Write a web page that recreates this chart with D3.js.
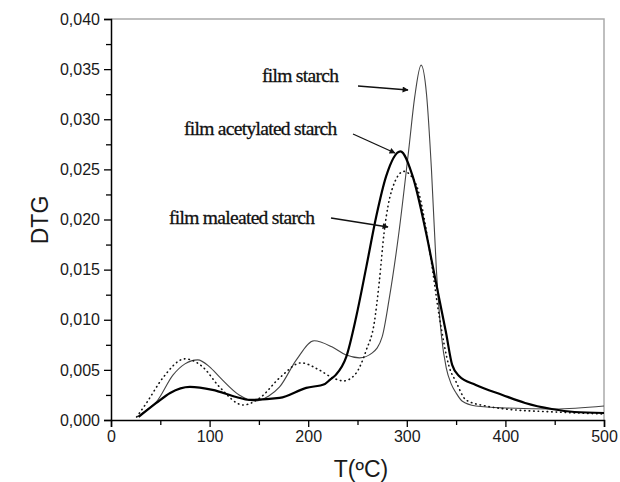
<!DOCTYPE html>
<html>
<head>
<meta charset="utf-8">
<script src="https://cdn.jsdelivr.net/npm/d3@7"></script>
<style>
  body { margin: 0; background: #fff; }
  svg text { font-family: "Liberation Sans", Arial, sans-serif; }
</style>
</head>
<body>
<div id="chart"></div>
<script>
// DTG curves, [T (ºC), DTG]
const filmStarch = [
  [26, 0.0003], [36, 0.0010], [46, 0.0018], [63, 0.0045], [75, 0.0056], [88, 0.0060], [100, 0.0053],
  [110, 0.0043], [130, 0.0025], [146, 0.0019], [160, 0.0024], [171, 0.0033], [188, 0.0060],
  [206, 0.0079], [224, 0.0073], [238, 0.0065], [252, 0.0062], [265, 0.0067], [275, 0.0083],
  [282, 0.0120], [292, 0.0187], [302, 0.0270], [308, 0.0322], [314.5, 0.0354], [320, 0.0325],
  [325, 0.0250], [330, 0.0150], [335, 0.0085], [340, 0.0052], [345, 0.0036], [350, 0.0027],
  [356, 0.0019], [370, 0.0014], [400, 0.0012], [450, 0.0011], [500, 0.0014]
];
const filmAcetylated = [
  [28, 0.0003], [46, 0.0017], [60, 0.0027], [80, 0.0033], [103, 0.0030], [127, 0.0023],
  [140, 0.0020], [171, 0.0022], [198, 0.0032], [217, 0.0036], [222, 0.0040], [228, 0.0045],
  [238.6, 0.0063], [248.7, 0.0103], [259, 0.0153], [269, 0.0203], [279, 0.0243], [293.5, 0.0268],
  [306, 0.0243], [319.5, 0.0187], [329.6, 0.0137], [339.8, 0.0087], [346, 0.0055], [353, 0.0044],
  [370, 0.0035], [397, 0.0025], [420, 0.0017], [447, 0.0011], [470, 0.0008], [500, 0.0007]
];
const filmMaleated = [
  [26, 0.0003], [36, 0.0017], [52.6, 0.0042], [75, 0.0061], [93, 0.0053], [110, 0.0033],
  [134, 0.0015], [151, 0.0022], [171, 0.0042], [193, 0.0057], [211, 0.0050], [225, 0.0042],
  [236, 0.0039], [248, 0.0046], [259, 0.0070], [267, 0.0097], [272, 0.0137], [277, 0.0187],
  [285, 0.0230], [297, 0.0248], [309, 0.0236], [323, 0.0170], [333, 0.0103], [343, 0.0053],
  [350, 0.0038], [360, 0.0020], [380, 0.0014], [400, 0.0011], [450, 0.0008], [500, 0.0006]
];

const xTicks = [0, 100, 200, 300, 400, 500];
const yTicks = [0, 0.005, 0.010, 0.015, 0.020, 0.025, 0.030, 0.035, 0.040];
const labels = ["film starch", "film acetylated starch", "film maleated starch"];

const width = 620, height = 482;
const margin = { left: 111, right: 604, top: 19, bottom: 420 };

const x = d3.scaleLinear().domain([0, 500]).range([margin.left, margin.right]);
const y = d3.scaleLinear().domain([0, 0.040]).range([margin.bottom, margin.top]);

const svg = d3.select('#chart').append('svg')
  .attr('width', width)
  .attr('height', height);

// top / right frame
svg.append('path')
  .attr('d', `M${margin.left},${margin.top}H${margin.right}V${margin.bottom}`)
  .attr('fill', 'none')
  .attr('stroke', '#aaa')
  .attr('stroke-width', 1.5);

const fmt = d => d3.format('.3f')(d).replace('.', ',');

// x axis
svg.append('g')
  .attr('transform', `translate(0,${margin.bottom})`)
  .call(d3.axisBottom(x).tickValues(xTicks).tickSize(7).tickPadding(4).tickFormat(d3.format('d')));
svg.append('g')
  .attr('transform', `translate(0,${margin.bottom})`)
  .call(d3.axisBottom(x).tickValues(d3.range(50, 500, 100)).tickSize(5).tickFormat(''))
  .call(g => g.select('.domain').remove());

// y axis
svg.append('g')
  .attr('transform', `translate(${margin.left},0)`)
  .call(d3.axisLeft(y).tickValues(yTicks).tickSize(7).tickPadding(4).tickFormat(fmt));
svg.append('g')
  .attr('transform', `translate(${margin.left},0)`)
  .call(d3.axisLeft(y).tickValues(d3.range(0.0025, 0.040, 0.005)).tickSize(5).tickFormat(''))
  .call(g => g.select('.domain').remove());

svg.selectAll('.domain').attr('stroke', '#000').attr('stroke-width', 1.5);
svg.selectAll('.tick line').attr('stroke', '#000').attr('stroke-width', 1.3);
svg.selectAll('.tick text')
  .attr('fill', '#1a1a1a')
  .style('font-size', '16px');

// axis titles
svg.append('text')
  .attr('x', 361).attr('y', 477)
  .attr('text-anchor', 'middle')
  .attr('fill', '#1a1a1a')
  .style('font-size', '23px')
  .text('T(ºC)');
svg.append('text')
  .attr('transform', 'translate(48,220) rotate(-90)')
  .attr('text-anchor', 'middle')
  .attr('fill', '#1a1a1a')
  .style('font-size', '23px')
  .text('DTG');

// curves
const line = d3.line()
  .x(d => x(d[0]))
  .y(d => y(d[1]))
  .curve(d3.curveMonotoneX);

svg.append('path').datum(filmStarch)
  .attr('d', line)
  .attr('fill', 'none')
  .attr('stroke', '#444')
  .attr('stroke-width', 1.1);

svg.append('path').datum(filmMaleated)
  .attr('d', line)
  .attr('fill', 'none')
  .attr('stroke', '#111')
  .attr('stroke-width', 1.6)
  .attr('stroke-linecap', 'round')
  .attr('stroke-dasharray', '0.5,4');

svg.append('path').datum(filmAcetylated)
  .attr('d', line)
  .attr('fill', 'none')
  .attr('stroke', '#000')
  .attr('stroke-width', 2.2);

// annotations
svg.append('defs').append('marker')
  .attr('id', 'arrow')
  .attr('viewBox', '0 0 10 10')
  .attr('refX', 9).attr('refY', 5)
  .attr('markerWidth', 10).attr('markerHeight', 6)
  .attr('markerUnits', 'userSpaceOnUse')
  .attr('orient', 'auto')
  .append('path')
  .attr('d', 'M0,0L10,5L0,10z')
  .attr('fill', '#111');

const notes = [
  { text: labels[0], tx: 262, ty: 82, a: [358, 86, 408, 90] },
  { text: labels[1], tx: 184, ty: 135, a: [353, 134, 395, 153] },
  { text: labels[2], tx: 169, ty: 224, a: [331, 218, 388, 227] }
];
notes.forEach(n => {
  svg.append('text')
    .attr('x', n.tx).attr('y', n.ty)
    .style('font-family', '"Liberation Serif", "Times New Roman", serif')
    .style('font-size', '19.5px')
    .style('letter-spacing', '-0.7px')
    .attr('fill', '#111')
    .attr('stroke', '#111')
    .attr('stroke-width', 0.3)
    .text(n.text);
  svg.append('line')
    .attr('x1', n.a[0]).attr('y1', n.a[1])
    .attr('x2', n.a[2]).attr('y2', n.a[3])
    .attr('stroke', '#111')
    .attr('stroke-width', 1.3)
    .attr('marker-end', 'url(#arrow)');
});
</script>
</body>
</html>
